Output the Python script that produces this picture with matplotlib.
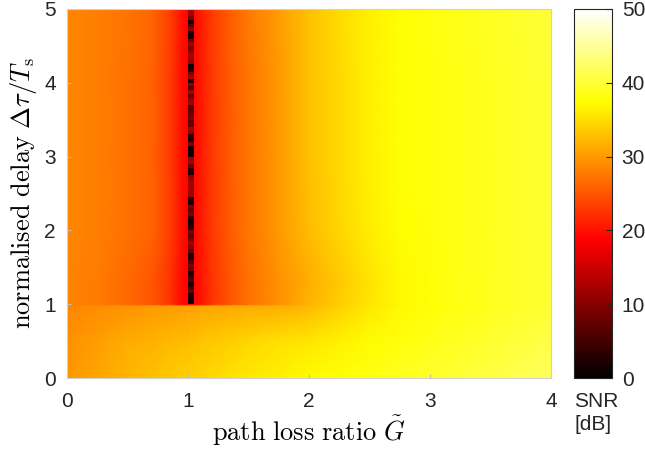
import numpy as np
import matplotlib
matplotlib.use("Agg")
import matplotlib.pyplot as plt
from matplotlib.colors import LinearSegmentedColormap

plt.rcParams.update({"font.family": ["Liberation Sans", "DejaVu Sans"],
                     "mathtext.fontset": "cm", "font.size": 15})

# background SNR field [dB] at a coarse set of nodes
G_NODES = [0, 0.25, 0.5, 0.7, 0.85, 0.95, 1.0, 1.05, 1.1, 1.2, 1.35,
           1.5, 1.75, 2.0, 2.25, 2.5, 2.75, 3.0, 3.5, 4.0]
TAU_NODES = [0, 0.5, 0.98, 1.0, 1.3, 2.0, 3.0, 4.0, 5.0]
BG_SNR = [
    [29.8, 31.0, 32.2, 33.0, 33.5, 33.8, 34.0, 34.1, 34.3, 34.7, 35.2, 35.8, 36.5, 37.2, 37.8, 38.4, 39.0, 39.6, 40.8, 42.0],
    [29.3, 30.3, 31.3, 31.8, 32.3, 32.6, 32.8, 32.9, 33.1, 33.5, 33.9, 34.5, 35.2, 35.6, 36.5, 37.3, 38.0, 38.6, 39.8, 41.0],
    [28.7, 29.0, 29.5, 29.9, 30.2, 30.4, 30.5, 30.6, 30.7, 30.9, 31.1, 31.3, 31.6, 32.4, 34.0, 35.8, 37.0, 37.8, 39.0, 40.0],
    [28.5, 27.8, 26.5, 25.0, 22.5, 19.5, 19.0, 19.2, 20.0, 22.5, 25.0, 27.0, 29.3, 32.0, 33.8, 35.7, 37.0, 37.8, 39.0, 40.0],
    [28.5, 27.8, 26.5, 25.0, 22.5, 19.5, 19.0, 19.2, 20.0, 22.5, 25.0, 27.0, 29.3, 31.6, 33.5, 35.5, 37.0, 37.8, 39.0, 40.0],
    [28.6, 28.0, 27.0, 26.0, 23.3, 20.0, 19.0, 19.5, 20.5, 23.0, 25.5, 27.5, 30.0, 32.5, 34.5, 36.2, 37.4, 38.0, 39.0, 40.0],
    [28.6, 28.0, 27.0, 26.0, 23.2, 19.8, 19.0, 19.5, 20.5, 23.0, 25.5, 27.5, 30.0, 32.9, 34.7, 36.4, 37.5, 38.0, 39.0, 40.0],
    [28.6, 28.0, 27.0, 26.0, 23.2, 19.8, 19.0, 19.5, 20.5, 23.0, 25.5, 27.5, 30.0, 32.9, 34.7, 36.4, 37.5, 38.0, 39.0, 40.0],
    [28.7, 28.1, 27.2, 26.2, 23.5, 20.0, 19.0, 19.5, 20.7, 23.2, 25.7, 27.7, 30.2, 33.0, 34.8, 36.5, 37.5, 38.1, 39.1, 40.2],
]

# the deep notch column G = 1.00..1.05, rows from tau = 5 down to tau = 1
NOTCH_G = [1.0, 1.05]
NOTCH_TAU = [5.0, 1.0]
NOTCH_SNR = [11.8, 11.8, 9.5, 1.5, 7, 10.5, 2, 1.5, 8, 12,
             9.5, 10, 13, 12, 11, 1.5, 2, 9.5, 12, 2,
             10.5, 6, 12, 7, 11, 12, 6, 7, 8, 9,
             7, 7.5, 12, 10, 4, 1.5, 9, 1, 1, 1,
             11, 12, 8, 2.5, 2, 10, 12, 12, 12, 12,
             12, 3, 1.5, 9, 7, 9, 3, 1, 2, 3.5,
             9, 7, 9, 12, 10, 8, 1, 2, 6, 9,
             8, 1.5, 4, 6, 1, 5, 7.5, 1.5, 1, 1]

# MATLAB-style "hot": red over 0..3/8, green over 3/8..6/8, blue over 6/8..1
hot_m = LinearSegmentedColormap("hot_m", {
    "red": [(0, 0, 0), (3 / 8, 1, 1), (1, 1, 1)],
    "green": [(0, 0, 0), (3 / 8, 0, 0), (6 / 8, 1, 1), (1, 1, 1)],
    "blue": [(0, 0, 0), (6 / 8, 0, 0), (1, 1, 1)]}, N=256)

fig = plt.figure(figsize=(6.45, 4.55), dpi=100)
ax = fig.add_axes([67 / 645, 77 / 455, 484 / 645, 369 / 455])
cax = fig.add_axes([574 / 645, 77 / 455, 38 / 645, 369 / 455])

GG, TT = np.meshgrid(G_NODES, TAU_NODES)
im = ax.pcolormesh(GG, TT, np.array(BG_SNR), cmap=hot_m, vmin=0, vmax=50,
                   shading="gouraud")
ne = len(NOTCH_SNR)
tau_edges = np.linspace(NOTCH_TAU[0], NOTCH_TAU[1], ne + 1)
ax.pcolormesh(NOTCH_G, tau_edges, np.array(NOTCH_SNR).reshape(ne, 1),
              cmap=hot_m, vmin=0, vmax=50, shading="flat")

ax.set_xlim(0, 4); ax.set_ylim(0, 5)
ax.set_xticks([0, 1, 2, 3, 4]); ax.set_yticks([0, 1, 2, 3, 4, 5])
ax.tick_params(direction="in", length=3, color="#bbbbbb", labelcolor="#262626",
               labelsize=15)
ax.tick_params(axis="x", pad=10)
ax.tick_params(axis="y", pad=8)
for sp in ax.spines.values():
    sp.set_color("#d0d0d0"); sp.set_linewidth(0.8)
ax.set_xlabel(r"$\mathrm{path\ loss\ ratio}\ \tilde{G}$", fontsize=19, labelpad=2)
ax.set_ylabel(r"$\mathrm{normalised\ delay}\ \Delta\tau/T_\mathrm{s}$", fontsize=19,
              labelpad=4)

cb = fig.colorbar(im, cax=cax, ticks=[0, 10, 20, 30, 40, 50])
cb.ax.tick_params(direction="in", length=4, color="#262626", labelcolor="#262626",
                  labelsize=15, pad=7)
cb.outline.set_edgecolor("#262626"); cb.outline.set_linewidth(0.8)
fig.text(574 / 645, 1 - 392 / 455, "SNR\n[dB]", ha="left", va="top",
         fontsize=15, color="#262626", linespacing=1.25)

fig.savefig("out.png", dpi=100)
